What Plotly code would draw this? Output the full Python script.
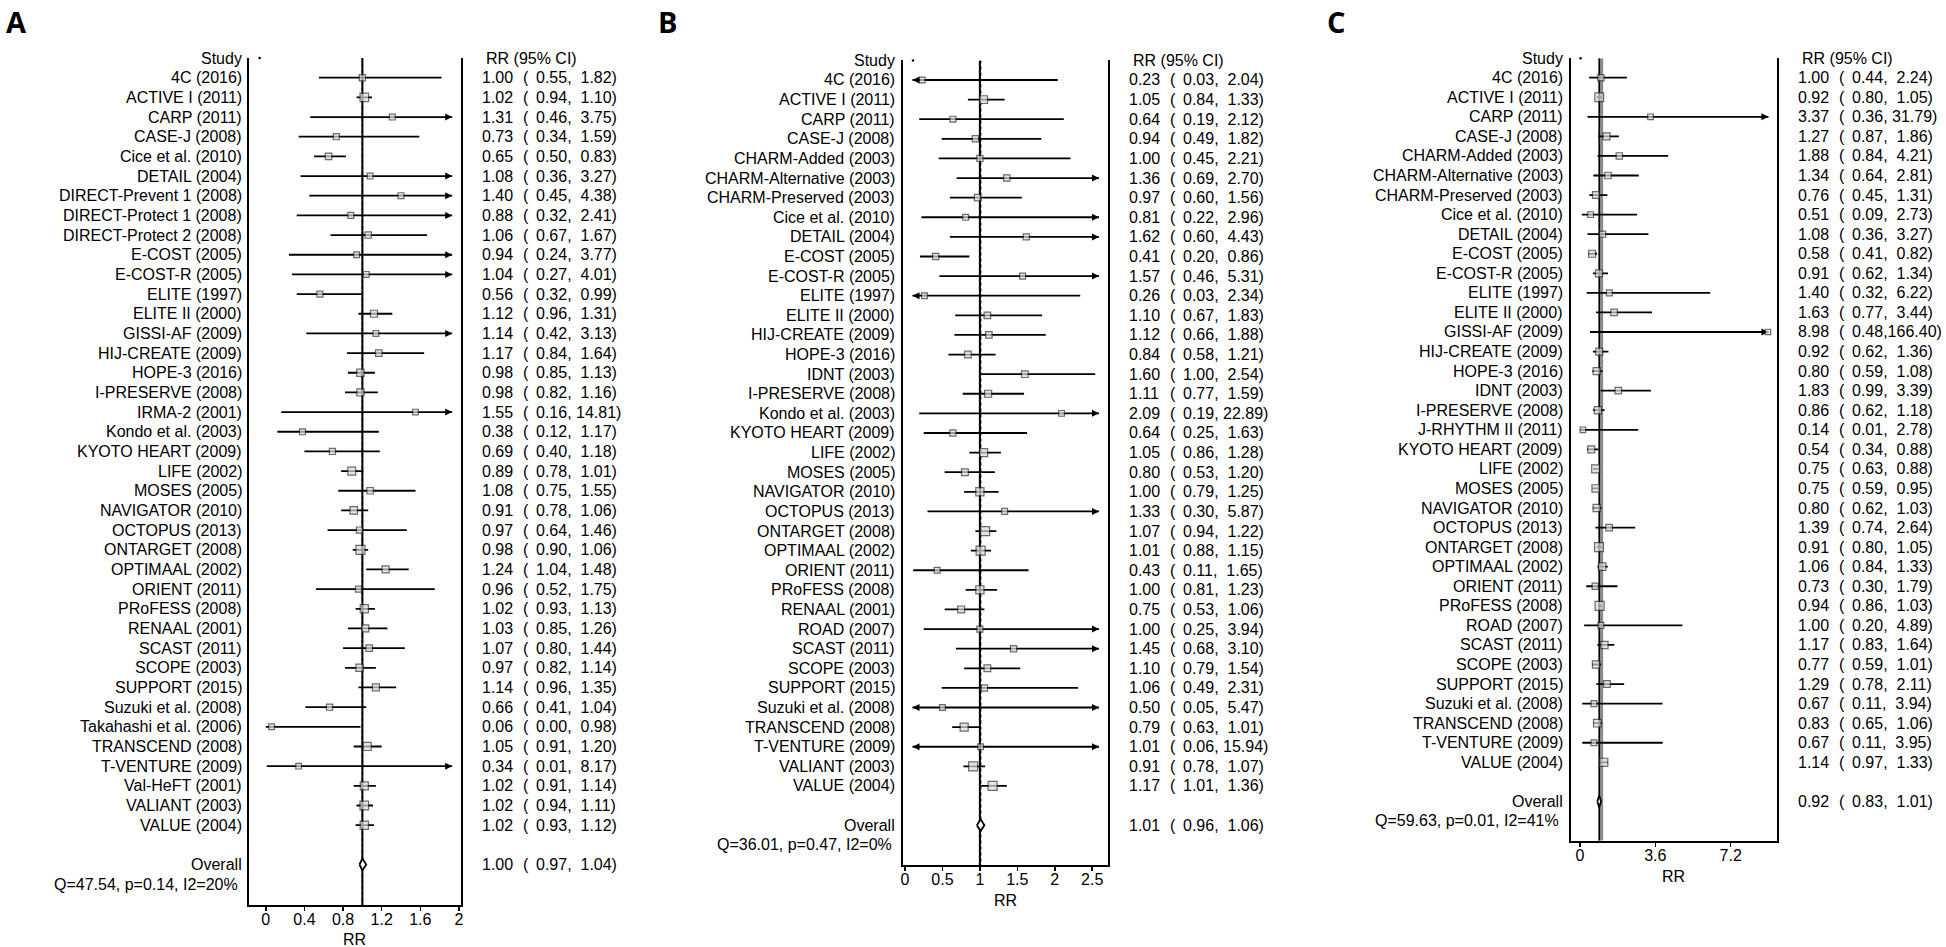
import math
import plotly.graph_objects as go

W, H = 1946, 947

# ---------------- DATA ----------------
studies_A = ["4C (2016)", "ACTIVE I (2011)", "CARP (2011)", "CASE-J (2008)", "Cice et al. (2010)",
             "DETAIL (2004)", "DIRECT-Prevent 1 (2008)", "DIRECT-Protect 1 (2008)", "DIRECT-Protect 2 (2008)",
             "E-COST (2005)", "E-COST-R (2005)", "ELITE (1997)", "ELITE II (2000)", "GISSI-AF (2009)",
             "HIJ-CREATE (2009)", "HOPE-3 (2016)", "I-PRESERVE (2008)", "IRMA-2 (2001)", "Kondo et al. (2003)",
             "KYOTO HEART (2009)", "LIFE (2002)", "MOSES (2005)", "NAVIGATOR (2010)", "OCTOPUS (2013)",
             "ONTARGET (2008)", "OPTIMAAL (2002)", "ORIENT (2011)", "PRoFESS (2008)", "RENAAL (2001)",
             "SCAST (2011)", "SCOPE (2003)", "SUPPORT (2015)", "Suzuki et al. (2008)", "Takahashi et al. (2006)",
             "TRANSCEND (2008)", "T-VENTURE (2009)", "Val-HeFT (2001)", "VALIANT (2003)", "VALUE (2004)"]
rr_A = [1.00, 1.02, 1.31, 0.73, 0.65, 1.08, 1.40, 0.88, 1.06, 0.94, 1.04, 0.56, 1.12, 1.14, 1.17, 0.98, 0.98,
        1.55, 0.38, 0.69, 0.89, 1.08, 0.91, 0.97, 0.98, 1.24, 0.96, 1.02, 1.03, 1.07, 0.97, 1.14, 0.66, 0.06,
        1.05, 0.34, 1.02, 1.02, 1.02]
lo_A = [0.55, 0.94, 0.46, 0.34, 0.50, 0.36, 0.45, 0.32, 0.67, 0.24, 0.27, 0.32, 0.96, 0.42, 0.84, 0.85, 0.82,
        0.16, 0.12, 0.40, 0.78, 0.75, 0.78, 0.64, 0.90, 1.04, 0.52, 0.93, 0.85, 0.80, 0.82, 0.96, 0.41, 0.00,
        0.91, 0.01, 0.91, 0.94, 0.93]
hi_A = [1.82, 1.10, 3.75, 1.59, 0.83, 3.27, 4.38, 2.41, 1.67, 3.77, 4.01, 0.99, 1.31, 3.13, 1.64, 1.13, 1.16,
        14.81, 1.17, 1.18, 1.01, 1.55, 1.06, 1.46, 1.06, 1.48, 1.75, 1.13, 1.26, 1.44, 1.14, 1.35, 1.04, 0.98,
        1.20, 8.17, 1.14, 1.11, 1.12]
weight_A = [1.2, 9.0, 0.8, 1.0, 2.0, 0.7, 0.8, 0.8, 1.5, 0.6, 0.6, 1.0, 3.0, 0.6, 1.8, 4.0, 3.5,
            0.5, 0.8, 1.1, 6.0, 1.8, 4.5, 1.2, 11.0, 3.0, 0.9, 7.0, 3.0, 2.0, 3.5, 3.0, 1.2, 0.5,
            6.5, 0.5, 6.5, 9.0, 7.5]
overall_A = [1.00, 0.97, 1.04]
het_A = "Q=47.54, p=0.14, I2=20%"
ticks_A = [0, 0.4, 0.8, 1.2, 1.6, 2]
ticklabels_A = ["0", "0.4", "0.8", "1.2", "1.6", "2"]
dot_A = -0.064

studies_B = ["4C (2016)", "ACTIVE I (2011)", "CARP (2011)", "CASE-J (2008)", "CHARM-Added (2003)",
             "CHARM-Alternative (2003)", "CHARM-Preserved (2003)", "Cice et al. (2010)", "DETAIL (2004)",
             "E-COST (2005)", "E-COST-R (2005)", "ELITE (1997)", "ELITE II (2000)", "HIJ-CREATE (2009)",
             "HOPE-3 (2016)", "IDNT (2003)", "I-PRESERVE (2008)", "Kondo et al. (2003)", "KYOTO HEART (2009)",
             "LIFE (2002)", "MOSES (2005)", "NAVIGATOR (2010)", "OCTOPUS (2013)", "ONTARGET (2008)",
             "OPTIMAAL (2002)", "ORIENT (2011)", "PRoFESS (2008)", "RENAAL (2001)", "ROAD (2007)",
             "SCAST (2011)", "SCOPE (2003)", "SUPPORT (2015)", "Suzuki et al. (2008)", "TRANSCEND (2008)",
             "T-VENTURE (2009)", "VALIANT (2003)", "VALUE (2004)"]
rr_B = [0.23, 1.05, 0.64, 0.94, 1.00, 1.36, 0.97, 0.81, 1.62, 0.41, 1.57, 0.26, 1.10, 1.12, 0.84, 1.60, 1.11,
        2.09, 0.64, 1.05, 0.80, 1.00, 1.33, 1.07, 1.01, 0.43, 1.00, 0.75, 1.00, 1.45, 1.10, 1.06, 0.50, 0.79,
        1.01, 0.91, 1.17]
lo_B = [0.03, 0.84, 0.19, 0.49, 0.45, 0.69, 0.60, 0.22, 0.60, 0.20, 0.46, 0.03, 0.67, 0.66, 0.58, 1.00, 0.77,
        0.19, 0.25, 0.86, 0.53, 0.79, 0.30, 0.94, 0.88, 0.11, 0.81, 0.53, 0.25, 0.68, 0.79, 0.49, 0.05, 0.63,
        0.06, 0.78, 1.01]
hi_B = [2.04, 1.33, 2.12, 1.82, 2.21, 2.70, 1.56, 2.96, 4.43, 0.86, 5.31, 2.34, 1.83, 1.88, 1.21, 2.54, 1.59,
        22.89, 1.63, 1.28, 1.20, 1.25, 5.87, 1.22, 1.15, 1.65, 1.23, 1.06, 3.94, 3.10, 1.54, 2.31, 5.47, 1.01,
        15.94, 1.07, 1.36]
weight_B = [0.5, 5.0, 0.8, 1.2, 1.0, 1.3, 1.5, 0.7, 1.0, 1.2, 0.8, 0.5, 1.6, 1.6, 2.0, 2.0, 2.8,
            0.5, 1.0, 6.0, 2.2, 6.5, 0.8, 10.0, 10.0, 0.7, 6.5, 2.5, 0.8, 1.2, 2.0, 1.2, 0.5, 6.0,
            0.4, 10.0, 10.0]
overall_B = [1.01, 0.96, 1.06]
het_B = "Q=36.01, p=0.47, I2=0%"
ticks_B = [0, 0.5, 1, 1.5, 2, 2.5]
ticklabels_B = ["0", "0.5", "1", "1.5", "2", "2.5"]
dot_B = 0.107

studies_C = ["4C (2016)", "ACTIVE I (2011)", "CARP (2011)", "CASE-J (2008)", "CHARM-Added (2003)",
             "CHARM-Alternative (2003)", "CHARM-Preserved (2003)", "Cice et al. (2010)", "DETAIL (2004)",
             "E-COST (2005)", "E-COST-R (2005)", "ELITE (1997)", "ELITE II (2000)", "GISSI-AF (2009)",
             "HIJ-CREATE (2009)", "HOPE-3 (2016)", "IDNT (2003)", "I-PRESERVE (2008)", "J-RHYTHM II (2011)",
             "KYOTO HEART (2009)", "LIFE (2002)", "MOSES (2005)", "NAVIGATOR (2010)", "OCTOPUS (2013)",
             "ONTARGET (2008)", "OPTIMAAL (2002)", "ORIENT (2011)", "PRoFESS (2008)", "ROAD (2007)",
             "SCAST (2011)", "SCOPE (2003)", "SUPPORT (2015)", "Suzuki et al. (2008)", "TRANSCEND (2008)",
             "T-VENTURE (2009)", "VALUE (2004)"]
rr_C = [1.00, 0.92, 3.37, 1.27, 1.88, 1.34, 0.76, 0.51, 1.08, 0.58, 0.91, 1.40, 1.63, 8.98, 0.92, 0.80, 1.83,
        0.86, 0.14, 0.54, 0.75, 0.75, 0.80, 1.39, 0.91, 1.06, 0.73, 0.94, 1.00, 1.17, 0.77, 1.29, 0.67, 0.83,
        0.67, 1.14]
lo_C = [0.44, 0.80, 0.36, 0.87, 0.84, 0.64, 0.45, 0.09, 0.36, 0.41, 0.62, 0.32, 0.77, 0.48, 0.62, 0.59, 0.99,
        0.62, 0.01, 0.34, 0.63, 0.59, 0.62, 0.74, 0.80, 0.84, 0.30, 0.86, 0.20, 0.83, 0.59, 0.78, 0.11, 0.65,
        0.11, 0.97]
hi_C = [2.24, 1.05, 31.79, 1.86, 4.21, 2.81, 1.31, 2.73, 3.27, 0.82, 1.34, 6.22, 3.44, 166.40, 1.36, 1.08, 3.39,
        1.18, 2.78, 0.88, 0.88, 0.95, 1.03, 2.64, 1.05, 1.33, 1.79, 1.03, 4.89, 1.64, 1.01, 2.11, 3.94, 1.06,
        3.95, 1.33]
weight_C = [1.2, 8.0, 0.4, 2.5, 1.2, 1.5, 1.8, 0.5, 0.9, 2.5, 2.5, 0.6, 1.4, 0.2, 2.5, 2.8, 1.6,
            3.0, 0.3, 2.4, 5.0, 3.5, 3.2, 1.6, 8.5, 3.8, 1.0, 9.0, 0.6, 3.0, 3.2, 1.8, 0.6, 4.0,
            0.6, 5.5]
overall_C = [0.92, 0.83, 1.01]
het_C = "Q=59.63, p=0.01, I2=41%"
ticks_C = [0, 3.6, 7.2]
ticklabels_C = ["0", "3.6", "7.2"]
dot_C = 0.03

# ---------------- LAYOUT / STYLE ----------------
FONT = "Liberation Sans, Arial, sans-serif"
FS = 16
BOX_FILL = "#e3d8d3"
BOX_LINE = "#2e2e2e"
NBSP = "\u00a0"

panels = [
    dict(letter="A", studies=studies_A, rr=rr_A, lo=lo_A, hi=hi_A, w=weight_A, ov=overall_A, het=het_A,
         ticks=ticks_A, ticklabels=ticklabels_A, dot=dot_A,
         x0px=247.4, x1px=460.1, zero_px=264.5, unit_px=96.8, row0=77.7, dy=19.67, bottom=905,
         label_right=241.5, est_x=480.0, title_y=939, letter_xy=(15, 22), clip_lo=None, clip_hi=1.93,
         gray_ref=False),
    dict(letter="B", studies=studies_B, rr=rr_B, lo=lo_B, hi=hi_B, w=weight_B, ov=overall_B, het=het_B,
         ticks=ticks_B, ticklabels=ticklabels_B, dot=dot_B,
         x0px=903.2, x1px=1109.3, zero_px=905.3, unit_px=75.1, row0=80.0, dy=19.61, bottom=865,
         label_right=896.3, est_x=1129.2, title_y=900, letter_xy=(667, 22), clip_lo=0.10, clip_hi=2.59,
         gray_ref=False),
    dict(letter="C", studies=studies_C, rr=rr_C, lo=lo_C, hi=hi_C, w=weight_C, ov=overall_C, het=het_C,
         ticks=ticks_C, ticklabels=ticklabels_C, dot=dot_C,
         x0px=1572.7, x1px=1779.5, zero_px=1582.0, unit_px=21.0, row0=77.7, dy=19.56, bottom=840.7,
         label_right=1566.0, est_x=1799.6, title_y=876, letter_xy=(1337.7, 22), clip_lo=None, clip_hi=9.0,
         gray_ref=True),
]

fig = go.Figure()
annotations = []
layout_axes = {}


def px_x(p):
    return p / W


def px_y(p):
    return 1 - p / H


for k, P in enumerate(panels):
    sfx = "" if k == 0 else str(k + 1)
    xa, ya = "x" + sfx, "y" + sfx
    n = len(P["studies"])
    ov_row = n + 1
    het_row = n + 2
    ybottom = (P["bottom"] - P["row0"]) / P["dy"]
    ytop = -1.0
    xr = [(P["x0px"] - P["zero_px"]) / P["unit_px"], (P["x1px"] - P["zero_px"]) / P["unit_px"]]

    common = dict(xaxis=xa, yaxis=ya, hoverinfo="skip", showlegend=False)

    # reference line at RR = 1
    if P["gray_ref"]:
        fig.add_trace(go.Scatter(x=[1, 1], y=[ytop, ybottom], mode="lines",
                                 line=dict(color="#8a8a8a", width=4.5), **common))
    else:
        fig.add_trace(go.Scatter(x=[1, 1], y=[ytop, ybottom], mode="lines",
                                 line=dict(color="black", width=2), **common))
    # overall estimate line
    fig.add_trace(go.Scatter(x=[P["ov"][0]] * 2, y=[ytop, ybottom], mode="lines",
                             line=dict(color="black", width=1.5, dash="solid" if P["gray_ref"] else "dot"),
                             **common))

    # confidence interval lines
    xs, ys = [], []
    arr_r, arr_l = [], []
    for i, (l, h) in enumerate(zip(P["lo"], P["hi"])):
        l2, h2 = l, h
        if P["clip_lo"] is not None and l < P["clip_lo"]:
            l2 = P["clip_lo"]
            arr_l.append(i)
        if h > P["clip_hi"]:
            h2 = P["clip_hi"]
            arr_r.append(i)
        xs += [l2, h2, None]
        ys += [i, i, None]
    fig.add_trace(go.Scatter(x=xs, y=ys, mode="lines", line=dict(color="black", width=1.8), **common))
    if arr_r:
        fig.add_trace(go.Scatter(x=[P["clip_hi"]] * len(arr_r), y=arr_r, mode="markers",
                                 marker=dict(symbol="arrow-right", size=7, color="black",
                                             line=dict(width=0)), **common))
    if arr_l:
        fig.add_trace(go.Scatter(x=[P["clip_lo"]] * len(arr_l), y=arr_l, mode="markers",
                                 marker=dict(symbol="arrow-left", size=7, color="black",
                                             line=dict(width=0)), **common))

    # weighted boxes
    wmax = max(P["w"])
    sizes = [4.8 + 4.2 * math.sqrt(w / wmax) for w in P["w"]]
    fig.add_trace(go.Scatter(x=P["rr"], y=list(range(n)), mode="markers",
                             marker=dict(symbol="square", size=sizes, color=BOX_FILL,
                                         line=dict(color=BOX_LINE, width=1.2)), **common))

    # overall diamond
    e, l, h = P["ov"]
    fig.add_trace(go.Scatter(x=[l, e, h, e, l], y=[ov_row, ov_row - 0.3, ov_row, ov_row + 0.3, ov_row],
                             mode="lines", fill="toself", fillcolor="white",
                             line=dict(color="black", width=1.8), **common))

    # stray dot by header
    fig.add_trace(go.Scatter(x=[P["dot"]], y=[ytop], mode="markers",
                             marker=dict(size=2.5, color="black"), cliponaxis=False, **common))

    layout_axes["xaxis" + sfx] = dict(
        domain=[px_x(P["x0px"]), px_x(P["x1px"])], range=xr, anchor=ya,
        showline=True, linecolor="black", linewidth=2, mirror=False,
        ticks="outside", ticklen=4, tickwidth=1.5, tickcolor="black",
        ticklabelstandoff=-5,
        tickvals=P["ticks"], ticktext=P["ticklabels"],
        tickfont=dict(family=FONT, size=FS, color="black"),
        showgrid=False, zeroline=False, fixedrange=True)
    layout_axes["yaxis" + sfx] = dict(
        domain=[px_y(P["bottom"]), px_y(P["row0"] - P["dy"])], range=[ybottom, ytop], anchor=xa,
        showline=True, linecolor="black", linewidth=2, mirror=True,
        showticklabels=False, ticks="", showgrid=False, zeroline=False, fixedrange=True)

    yref = ya
    lab_x = px_x(P["label_right"])
    tf = dict(family=FONT, size=FS, color="black")

    def ann(x, y, text, anchor, yr=yref):
        annotations.append(dict(x=x, y=y, xref="paper", yref=yr, text=text, showarrow=False,
                                xanchor=anchor, yanchor="middle", font=tf, borderpad=0))

    ann(lab_x, ytop, "Study", "right")
    for i, s in enumerate(P["studies"]):
        ann(lab_x, i, s, "right")
    ann(lab_x, ov_row, "Overall", "right")
    ann(px_x(P["label_right"] - 3.5), het_row, P["het"], "right")

    ex = P["est_x"]
    ann(px_x(ex + 4.2), ytop, "RR (95% CI)", "left")
    rows_vals = list(zip(range(n), P["rr"], P["lo"], P["hi"])) + [(ov_row, e, l, h)]
    for i, ee, ll, hh in rows_vals:
        ndig = len(f"{int(hh)}")
        bounds = f"{ll:.2f}," + NBSP * max(0, 3 - ndig) + f"{hh:.2f})"
        ann(px_x(ex), i, f"{ee:.2f}", "left")
        ann(px_x(ex + 41.3), i, "(", "left")
        ann(px_x(ex + 54.0), i, bounds, "left")

    # axis title
    annotations.append(dict(x=px_x((P["x0px"] + P["x1px"]) / 2), y=px_y(P["title_y"]), xref="paper",
                            yref="paper", text="RR", showarrow=False, xanchor="center", yanchor="middle",
                            font=tf, borderpad=0))
    # panel letter
    lx, ly = P["letter_xy"]
    annotations.append(dict(x=px_x(lx), y=px_y(ly), xref="paper", yref="paper",
                            text="<b>" + P["letter"] + "</b>", showarrow=False,
                            xanchor="center", yanchor="middle",
                            font=dict(family="Open Sans, DejaVu Sans, sans-serif", size=29, color="black")))

fig.update_layout(
    width=W, height=H, autosize=False,
    margin=dict(l=0, r=0, t=0, b=0),
    paper_bgcolor="white", plot_bgcolor="white",
    showlegend=False,
    font=dict(family=FONT, size=FS, color="black"),
    annotations=annotations,
    **layout_axes)

fig.write_html("out.html", config={"displayModeBar": False, "staticPlot": True},
               post_script="document.body.style.margin='0px';document.body.style.padding='0px';")
